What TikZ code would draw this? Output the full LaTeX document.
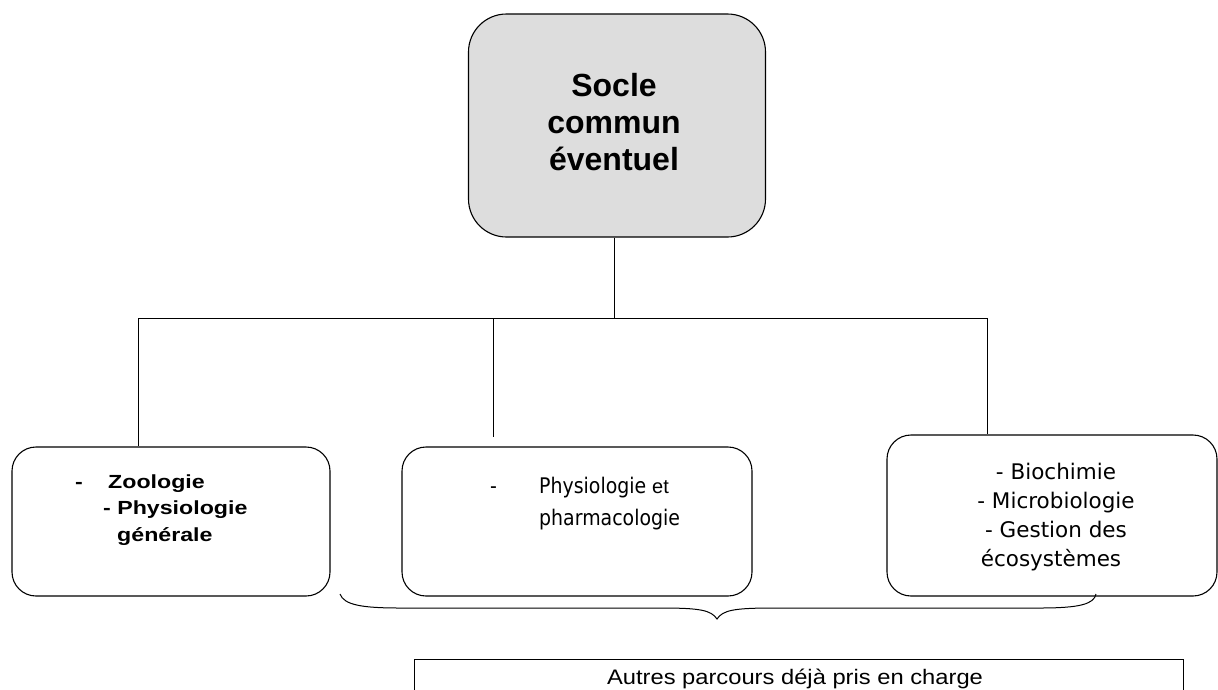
\documentclass[tikz,border=0pt]{standalone}
\usepackage{fontspec}
\setmainfont{Liberation Sans}
\newfontfamily\wideb[FakeStretch=1.22]{Liberation Sans}
\newfontfamily\bottomf[FakeStretch=1.13]{Liberation Sans}
\newfontfamily\tahoma[FakeStretch=0.88]{DejaVu Sans}
\newfontfamily\tahomaw{DejaVu Sans}
\begin{document}
\begin{tikzpicture}[x=1pt,y=-1pt,
  box/.style={draw,line width=1.1pt,rounded corners=24pt,inner sep=0pt},
  wire/.style={line width=1pt},
  txt/.style={inner sep=0pt,anchor=base west},
  ctxt/.style={inner sep=0pt,anchor=base}]
\useasboundingbox (0,0) rectangle (1218,689);
\fill[white] (0,0) rectangle (1218,689);
% top box
\node[box,fill={rgb,255:red,221;green,221;blue,221},rounded corners=38pt,minimum width=297pt,minimum height=223pt] (top) at (617,125.5) {};
\node[inner sep=0pt,align=center,font=\fontsize{32}{37}\selectfont\bfseries] (toptxt) at (614,122.5) {Socle\\commun\\éventuel};
% level boxes
\node[box,minimum width=318pt,minimum height=149pt] (left) at (171,521.5) {};
\node[box,minimum width=350pt,minimum height=149pt] (mid) at (577,521.5) {};
\node[box,minimum width=330pt,minimum height=161pt] (right) at (1052,515.5) {};
% tree connectors
\coordinate (j) at (614,318);
\coordinate (jl) at (138,318);
\coordinate (jm) at (493,318);
\coordinate (jr) at (987,318);
\coordinate (mend) at (493,437);
\draw[wire] (top.south -| j) -- (j);
\draw[wire] (jl) -- (jr);
\draw[wire] (jl) -- (jl |- left.north);
\draw[wire] (jm) -- (mend);
\draw[wire] (jr) -- (jr |- right.north);
% left text
\begin{scope}[font=\wideb\fontsize{19}{22}\selectfont\bfseries]
\node[txt] (l1a) at (75,488) {-};
\node[txt] (l1b) at (108,488) {Zoologie};
\node[txt] (l2) at (103,514) {- Physiologie};
\node[txt] (l3) at (117,541) {générale};
\end{scope}
% middle text
\begin{scope}[font=\tahoma\fontsize{21.5}{26}\selectfont]
\node[txt] (m1a) at (490,493) {-};
\node[txt] (m1b) at (539,493) {Physiologie \rmfamily\fontsize{20}{22}\selectfont et};
\node[txt] (m2) at (539,525) {pharmacologie};
\end{scope}
% right text
\begin{scope}[font=\tahomaw\fontsize{21.5}{26}\selectfont]
\node[ctxt] (r1) at (1056,479) {- Biochimie};
\node[ctxt] (r2) at (1056,508) {- Microbiologie};
\node[ctxt] (r3) at (1056,537) {- Gestion des};
\node[ctxt] (r4) at (1051,566) {écosystèmes};
\end{scope}
% brace
\coordinate (bl) at (340,594);
\coordinate (br) at (1096,594);
\coordinate (bt) at (717,619);
\draw[line width=1pt] (bl) .. controls (344,605) and (362,608) .. (400,608) -- (660,608) .. controls (700,608) and (711,610) .. (bt) .. controls (723,610) and (734,608) .. (775,608) -- (1040,608) .. controls (1080,608) and (1094,604) .. (br);
% bottom box
\draw[line width=1pt] (414,700) -- (414,659) -- (1183,659) -- (1183,700);
\node[ctxt,font=\bottomf\fontsize{21}{24}\selectfont] (btxt) at (795,684) {Autres parcours déjà pris en charge};
\end{tikzpicture}
\end{document}
